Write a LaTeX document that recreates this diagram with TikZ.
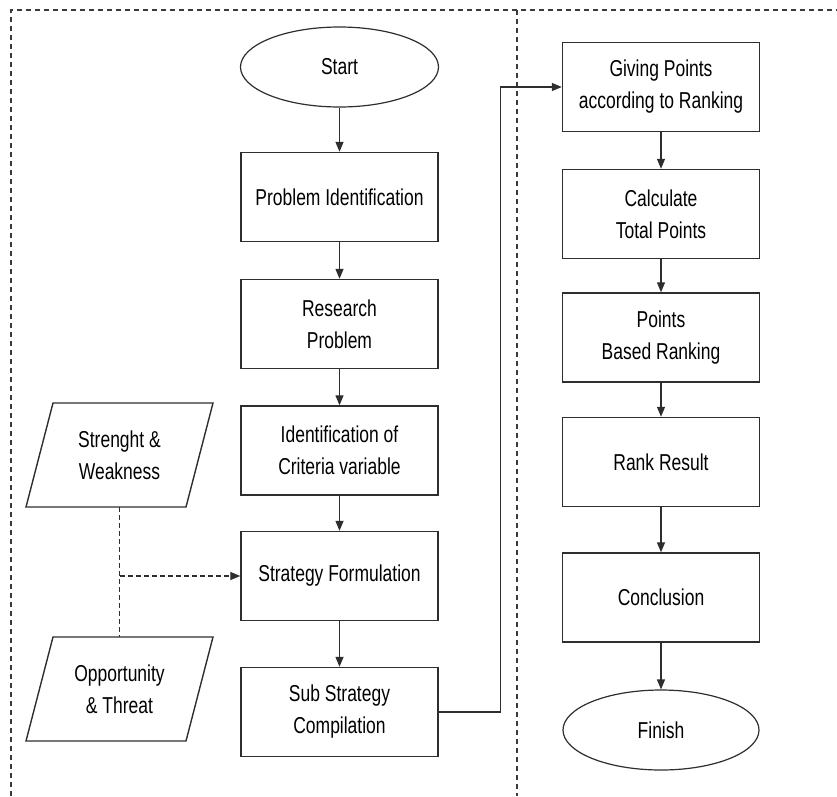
\documentclass[tikz,border=0pt]{standalone}
\usepackage{fontspec}
\usetikzlibrary{arrows.meta,shapes.geometric,calc}
\newfontfamily\nf{Liberation Sans}[FakeStretch=0.76]
\definecolor{linecol}{HTML}{2E2E2E}
\definecolor{bordcol}{HTML}{3A3A3A}
\begin{document}
\begin{tikzpicture}[x=1pt,y=-1pt,
  every node/.style={font=\nf\fontsize{23}{32}\selectfont, text=black},
  box/.style={draw=linecol, line width=1.4pt, rectangle, minimum width=197pt, minimum height=89pt, inner sep=0pt, align=center},
  term/.style={draw=linecol, line width=1.2pt, ellipse, minimum width=198pt, minimum height=80pt, inner sep=0pt, align=center},
  txt/.style={inner sep=0pt, align=center},
  para/.style={draw=linecol, line width=1.4pt, line join=miter},
  flow/.style={draw=linecol, line width=1.3pt, -{Triangle[length=10pt,width=8pt]}},
  dflow/.style={draw=linecol, line width=1.3pt, dash pattern=on 5pt off 3pt},
  border/.style={draw=bordcol, line width=1.3pt, dash pattern=on 5pt off 4pt}
]
\useasboundingbox (0,0) rectangle (837,796);
% frame
\draw[border] (11,796) -- (11,10) -- (837,10);
\draw[border] (517,10) -- (517,796);

% left column
\node[term] (start) at (339.5,67) {Start};
\node[box] (pi)  at (339.5,197)   {Problem Identification};
\node[box] (rp)  at (339.5,324)   {Research\\Problem};
\node[box] (icv) at (339.5,450.5) {Identification of\\Criteria variable};
\node[box] (sf)  at (339.5,576)   {Strategy Formulation};
\node[box] (ssc) at (339.5,712)   {Sub Strategy\\Compilation};

% right column
\node[box] (gp)  at (661,87)    {Giving Points\\according to Ranking};
\node[box] (ctp) at (661,214)   {Calculate\\Total Points};
\node[box] (pbr) at (661,337.5) {Points\\Based Ranking};
\node[box] (rr)  at (661,462)   {Rank Result};
\node[box] (con) at (661,597.5) {Conclusion};
\node[term, minimum width=196pt] (fin) at (661,730) {Finish};

% parallelograms
\draw[para] (26,507) -- (186,507) -- (213,403) -- (53,403) -- cycle;
\node[txt] (sw) at (119.5,455) {Strenght \&\\Weakness};
\draw[para] (26,741) -- (186,741) -- (213,637) -- (53,637) -- cycle;
\node[txt] (ot) at (119.5,689) {Opportunity\\\& Threat};
\coordinate (swb) at (119.5,507);
\coordinate (ott) at (119.5,637);
\coordinate (jn)  at (119.5,576);

% connectors
\draw[flow] (start) -- (pi);
\draw[flow] (pi) -- (rp);
\draw[flow] (rp) -- (icv);
\draw[flow] (icv) -- (sf);
\draw[flow] (sf) -- (ssc);
\draw[flow] (ssc.east) -- ++(62,0) |- (gp.west);
\draw[flow] (gp) -- (ctp);
\draw[flow] (ctp) -- (pbr);
\draw[flow] (pbr) -- (rr);
\draw[flow] (rr) -- (con);
\draw[flow] (con) -- (fin);

\draw[dflow] (swb) -- (ott);
\draw[dflow, -{Triangle[length=10pt,width=8pt]}] (jn) -- (sf.west);
\end{tikzpicture}
\end{document}
